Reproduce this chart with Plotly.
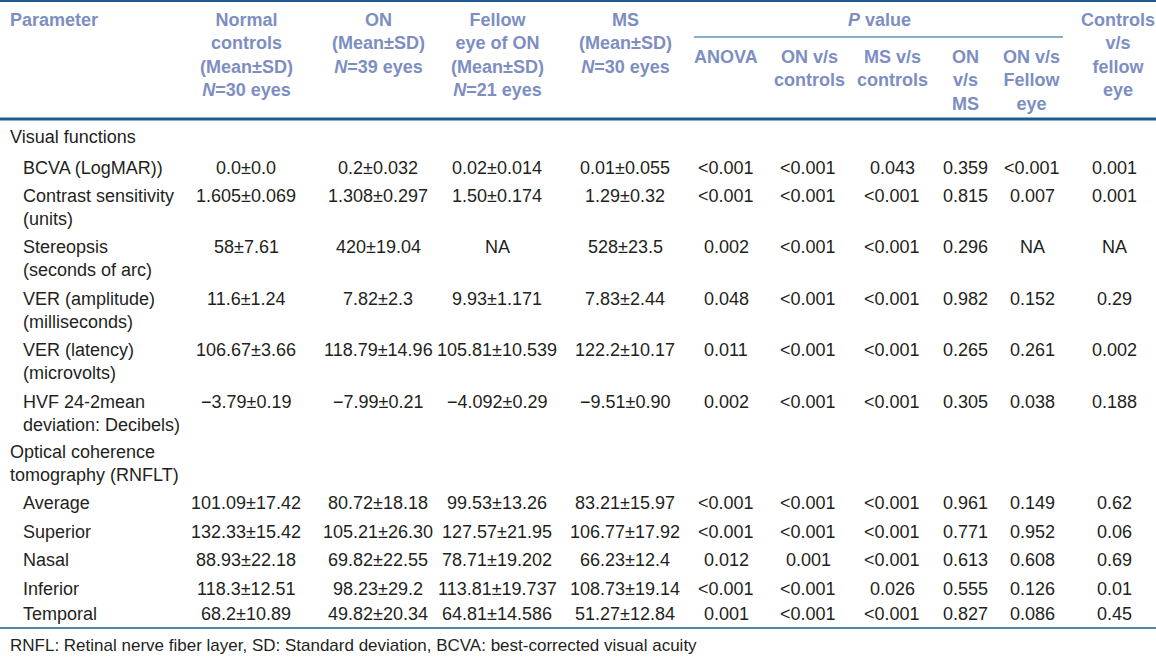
import plotly.graph_objects as go

# ---------------- data ----------------
header_params = "Parameter"
header_groups = [
    "Normal<br>controls<br>(Mean±SD)<br><i>N</i>=30 eyes",
    "ON<br>(Mean±SD)<br><i>N</i>=39 eyes",
    "Fellow<br>eye of ON<br>(Mean±SD)<br><i>N</i>=21 eyes",
    "MS<br>(Mean±SD)<br><i>N</i>=30 eyes",
]
header_pvalue = "<i>P</i> value"
header_pcols = [
    "ANOVA",
    "ON v/s<br>controls",
    "MS v/s<br>controls",
    "ON<br>v/s<br>MS",
    "ON v/s<br>Fellow<br>eye",
]
header_last = "Controls<br>v/s<br>fellow<br>eye"

sections = ["Visual functions", "Optical coherence<br>tomography (RNFLT)"]

parameters = [
    "BCVA (LogMAR))",
    "Contrast sensitivity<br>(units)",
    "Stereopsis<br>(seconds of arc)",
    "VER (amplitude)<br>(milliseconds)",
    "VER (latency)<br>(microvolts)",
    "HVF 24-2mean<br>deviation: Decibels)",
    "Average",
    "Superior",
    "Nasal",
    "Inferior",
    "Temporal",
]
normal_controls = ["0.0±0.0", "1.605±0.069", "58±7.61", "11.6±1.24", "106.67±3.66", "−3.79±0.19",
                   "101.09±17.42", "132.33±15.42", "88.93±22.18", "118.3±12.51", "68.2±10.89"]
on_group = ["0.2±0.032", "1.308±0.297", "420±19.04", "7.82±2.3", "118.79±14.96", "−7.99±0.21",
            "80.72±18.18", "105.21±26.30", "69.82±22.55", "98.23±29.2", "49.82±20.34"]
fellow_eye = ["0.02±0.014", "1.50±0.174", "NA", "9.93±1.171", "105.81±10.539", "−4.092±0.29",
              "99.53±13.26", "127.57±21.95", "78.71±19.202", "113.81±19.737", "64.81±14.586"]
ms_group = ["0.01±0.055", "1.29±0.32", "528±23.5", "7.83±2.44", "122.2±10.17", "−9.51±0.90",
            "83.21±15.97", "106.77±17.92", "66.23±12.4", "108.73±19.14", "51.27±12.84"]
p_anova = ["<0.001", "<0.001", "0.002", "0.048", "0.011", "0.002",
           "<0.001", "<0.001", "0.012", "<0.001", "0.001"]
p_on_vs_controls = ["<0.001", "<0.001", "<0.001", "<0.001", "<0.001", "<0.001",
                    "<0.001", "<0.001", "0.001", "<0.001", "<0.001"]
p_ms_vs_controls = ["0.043", "<0.001", "<0.001", "<0.001", "<0.001", "<0.001",
                    "<0.001", "<0.001", "<0.001", "0.026", "<0.001"]
p_on_vs_ms = ["0.359", "0.815", "0.296", "0.982", "0.265", "0.305",
              "0.961", "0.771", "0.613", "0.555", "0.827"]
p_on_vs_fellow = ["<0.001", "0.007", "NA", "0.152", "0.261", "0.038",
                  "0.149", "0.952", "0.608", "0.126", "0.086"]
p_controls_vs_fellow = ["0.001", "0.001", "NA", "0.29", "0.002", "0.188",
                        "0.62", "0.06", "0.69", "0.01", "0.45"]

footnote = "RNFL: Retinal nerve fiber layer, SD: Standard deviation, BCVA: best-corrected visual acuity"

# ---------------- layout ----------------
W, H = 1156, 658
HEAD_COLOR = "#7d8ec3"
LINE_COLOR = "#1c5a90"
TEXT_COLOR = "#231f20"
FONT = "Liberation Sans, Arial, sans-serif"
LH = 23  # line height

col_x = [246, 378, 497, 625, 726, 808, 892, 965, 1032, 1114]
header_col_x = [246, 378, 497, 625, 726, 809, 892, 965, 1032, 1118]
section_y = [137, 452]
row_y = [168, 196, 247, 299, 350, 402, 503, 532, 560, 589, 614]

fig = go.Figure()
annotations = []


def add_text(text, x, y_first, anchor="center", color=TEXT_COLOR, size=18, bold=False, family=FONT):
    n = text.count("<br>") + 1
    yc = y_first + (n - 1) * LH / 2
    t = f"<b>{text}</b>" if bold else text
    annotations.append(dict(
        x=x, y=yc, xref="x", yref="y", text=t, showarrow=False,
        xanchor=anchor, yanchor="middle", align=anchor if anchor != "center" else "center",
        font=dict(family=family, size=size, color=color),
    ))


# headers
add_text(header_params, 8, 20, anchor="left", color=HEAD_COLOR, bold=True)
for i, h in enumerate(header_groups):
    add_text(h, header_col_x[i], 20, color=HEAD_COLOR, bold=True)
add_text(header_pvalue, 879, 20, color=HEAD_COLOR, bold=True)
for i, h in enumerate(header_pcols):
    add_text(h, header_col_x[4 + i], 57, color=HEAD_COLOR, bold=True)
add_text(header_last, header_col_x[9], 20, color=HEAD_COLOR, bold=True)

# sections
for s, y in zip(sections, section_y):
    add_text(s, 8, y, anchor="left")

# body
columns = [normal_controls, on_group, fellow_eye, ms_group, p_anova, p_on_vs_controls,
           p_ms_vs_controls, p_on_vs_ms, p_on_vs_fellow, p_controls_vs_fellow]
for r, (p, y) in enumerate(zip(parameters, row_y)):
    add_text(p, 21, y, anchor="left")
    for c, col in enumerate(columns):
        add_text(col[r].replace("<", "&lt;"), col_x[c], y)

# footnote
add_text(footnote, 8, 645, anchor="left", size=17)

shapes = [
    dict(type="line", x0=0, x1=W, y0=1, y1=1, xref="x", yref="y", line=dict(color=LINE_COLOR, width=2)),
    dict(type="line", x0=694, x1=1063, y0=37, y1=37, xref="x", yref="y", line=dict(color=LINE_COLOR, width=1.2)),
    dict(type="line", x0=0, x1=W, y0=119, y1=119, xref="x", yref="y", line=dict(color=LINE_COLOR, width=3)),
    dict(type="line", x0=0, x1=W, y0=628, y1=628, xref="x", yref="y", line=dict(color=LINE_COLOR, width=1.5)),
]

fig.update_layout(
    width=W, height=H,
    margin=dict(l=0, r=0, t=0, b=0),
    paper_bgcolor="white", plot_bgcolor="white",
    xaxis=dict(range=[0, W], visible=False, fixedrange=True),
    yaxis=dict(range=[H, 0], visible=False, fixedrange=True),
    annotations=annotations,
    shapes=shapes,
    showlegend=False,
)

fig.write_html(
    "out.html",
    config={"displayModeBar": False},
    post_script="document.body.style.margin='0';document.body.style.overflow='hidden';",
)
